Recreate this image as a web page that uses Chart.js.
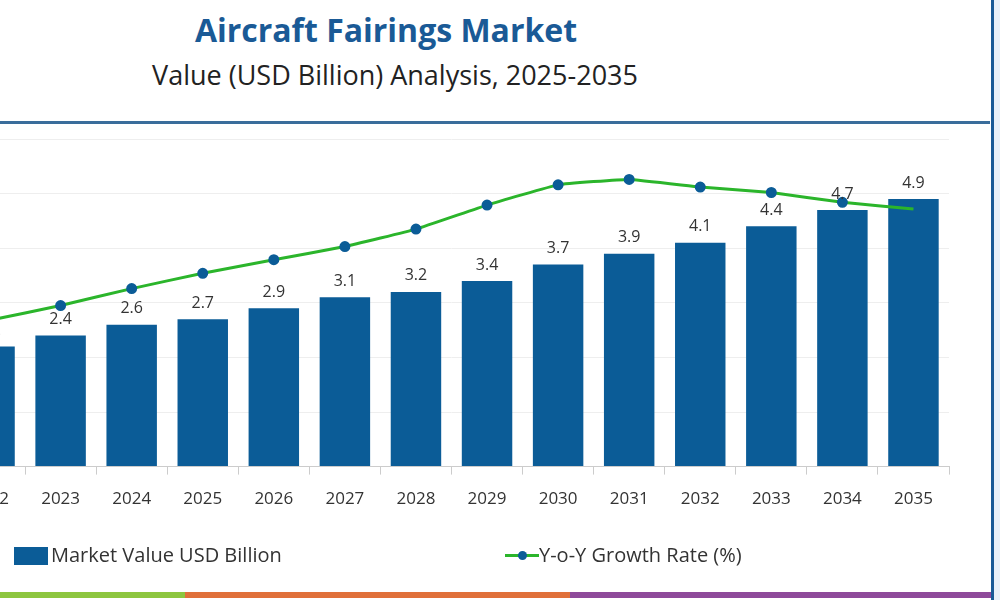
<!DOCTYPE html>
<html><head><meta charset="utf-8">
<script src="https://cdn.jsdelivr.net/npm/chart.js@4.4.1/dist/chart.umd.min.js"></script>
<style>
body{margin:0;width:1000px;height:600px;overflow:hidden;background:#fff;font-family:"Open Sans",sans-serif;position:relative}
#t1{position:absolute;top:8px;left:0;width:772px;text-align:center;font:bold 32px "Open Sans",sans-serif;color:#1a5a96}
#t2{position:absolute;top:56px;left:0;width:790px;text-align:center;font:27px "Open Sans",sans-serif;color:#222}
#hl{position:absolute;top:121px;left:0;width:990px;height:3px;background:#3a6d9b}
#vl{position:absolute;top:0;left:991px;width:9px;height:600px;background:#e8f0f8;border-left:3px solid #1a5a96}
#wrap{position:absolute;left:-100px;top:0;width:1100px;height:600px}
.st{position:absolute;top:592px;height:6px}
.lg{position:absolute;top:541px;font:20px "Open Sans",sans-serif;color:#333}
</style></head><body>
<div id="t1">Aircraft Fairings Market</div>
<div id="t2">Value (USD Billion) Analysis, 2025-2035</div>
<div id="hl"></div>
<div id="wrap"><canvas id="c" width="1100" height="600"></canvas></div>
<div id="vl"></div>
<div class="lg" style="left:14px"><span style="display:inline-block;width:34px;height:18px;background:#0b5c97;vertical-align:-3px;margin-right:3px"></span>Market Value USD Billion</div>
<div class="lg" style="left:505px"><span style="display:inline-block;position:relative;width:34px;height:3px;background:#2bb52b;vertical-align:5px"><span style="position:absolute;left:13px;top:-3px;width:9px;height:9px;border-radius:50%;background:#0b5c97"></span></span>Y-o-Y Growth Rate (%)</div>
<div class="st" style="left:0;width:185px;background:#8dc63f"></div>
<div class="st" style="left:185px;width:385px;background:#e0703a"></div>
<div class="st" style="left:570px;width:421px;background:#8e4a9a"></div>
<script>
const years=["2022","2023","2024","2025","2026","2027","2028","2029","2030","2031","2032","2033","2034","2035"];
const marketValue=[2.2,2.4,2.6,2.7,2.9,3.1,3.2,3.4,3.7,3.9,4.1,4.4,4.7,4.9];
const growthRate=[2.68,2.95,3.26,3.54,3.79,4.03,4.35,4.79,5.16,5.26,5.12,5.02,4.84,4.72];
const labelPlugin={id:'lbl',afterDatasetsDraw(ch){const ctx=ch.ctx;const m=ch.getDatasetMeta(1);ctx.save();ctx.font='16px "Open Sans",sans-serif';ctx.fillStyle='#333';ctx.textAlign='center';ctx.textBaseline='bottom';m.data.forEach((b,i)=>ctx.fillText(marketValue[i].toFixed(1),b.x,b.y-8));ctx.restore();}};
new Chart(document.getElementById('c'),{
 data:{labels:years,datasets:[
  {type:'line',data:growthRate,yAxisID:'y2',borderColor:'#2bb52b',borderWidth:3,pointBackgroundColor:'#0b5c97',pointBorderColor:'#0b5c97',pointRadius:growthRate.map((v,i)=>i===growthRate.length-1?0:4),tension:0.1,order:0},
  {type:'bar',data:marketValue,yAxisID:'y',backgroundColor:'#0b5c97',categoryPercentage:1,barPercentage:0.71,order:1}
 ]},
 options:{responsive:false,animation:false,devicePixelRatio:1,
  layout:{padding:{left:54,right:51,top:139,bottom:77}},
  plugins:{legend:{display:false},tooltip:{enabled:false}},
  scales:{
   x:{grid:{display:true,drawOnChartArea:false,drawTicks:true,tickLength:8,color:'#ccc',offset:true},border:{color:'#ccc'},ticks:{padding:14,color:'#333',font:{size:17,family:'"Open Sans",sans-serif'}}},
   y:{display:true,min:0,max:6,ticks:{display:false,stepSize:1},grid:{color:'#eee',drawTicks:false},border:{display:false}},
   y2:{display:false,min:0,max:6}
  }},
 plugins:[labelPlugin]
});
</script>
</body></html>
